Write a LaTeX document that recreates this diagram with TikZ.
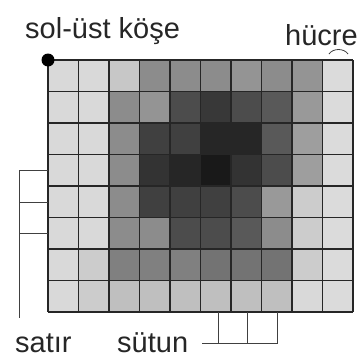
\documentclass[tikz,border=0pt]{standalone}
\usepackage{fontspec}
\setmainfont{Liberation Sans}
\begin{document}
\begin{tikzpicture}[x=1pt,y=-1pt,
  lbl/.style={font=\fontsize{29}{31}\selectfont, text=black!85, inner sep=0pt},
  gridline/.style={line width=1.4pt, draw=black!85},
  bracket/.style={line width=1pt, draw=black!75}]
\useasboundingbox (0,0) rectangle (358,362);
% cells
\foreach \row [count=\r from 0] in {
  {85,85,78,55,55,55,58,55,58,86},
  {85,85,55,58,30,22,30,35,60,86},
  {85,85,55,25,25,15,15,35,62,86},
  {85,85,55,20,15,10,20,30,62,86},
  {85,85,55,25,25,25,30,60,80,86},
  {85,85,55,55,30,30,35,55,80,86},
  {85,80,50,50,50,45,45,45,80,86},
  {85,80,75,75,75,75,75,75,85,86}} {
  \foreach \g [count=\c from 0] in \row {
    \fill[white!\g!black] ({48+30.5*\c},{60+31.5*\r}) rectangle +(30.5,31.5);
  }
}
% grid lines
\foreach \i in {0,...,10} \draw[gridline] ({48+30.5*\i},60) -- ({48+30.5*\i},312);
\foreach \j in {0,...,8} \draw[gridline] (48,{60+31.5*\j}) -- (353,{60+31.5*\j});
% corner dot
\node[circle, fill=black, minimum size=13pt, inner sep=0pt] (corner) at (48,60) {};
% labels
\node[lbl, anchor=base west] (solust) at (25,38) {sol-üst köşe};
\node[lbl, anchor=base west] (hucre) at (285,45) {hücre};
\node[lbl, anchor=base west] (satir) at (15,352) {satır};
\node[lbl, anchor=base west] (sutun) at (117,352) {sütun};
% brace over cell
\coordinate (bl) at (329,54);
\coordinate (br) at (348,54);
\draw[bracket, line width=0.8pt] (bl) .. controls (333,48) and (344,48) .. (br);
% row bracket
\coordinate (ra) at (48,170);
\coordinate (rb) at (48,202);
\coordinate (rc) at (48,233);
\coordinate (rend) at (19,318);
\draw[bracket] (ra) -- (19,170) -- (rend);
\draw[bracket] (rb) -- (19,202);
\draw[bracket] (rc) -- (19,233);
% column bracket
\coordinate (ca) at (218,312);
\coordinate (cb) at (247,312);
\coordinate (cc) at (277,312);
\coordinate (cstart) at (202,343);
\draw[bracket] (cstart) -- (277,343) -- (cc);
\draw[bracket] (ca) -- (218,343);
\draw[bracket] (cb) -- (247,343);
\end{tikzpicture}
\end{document}
